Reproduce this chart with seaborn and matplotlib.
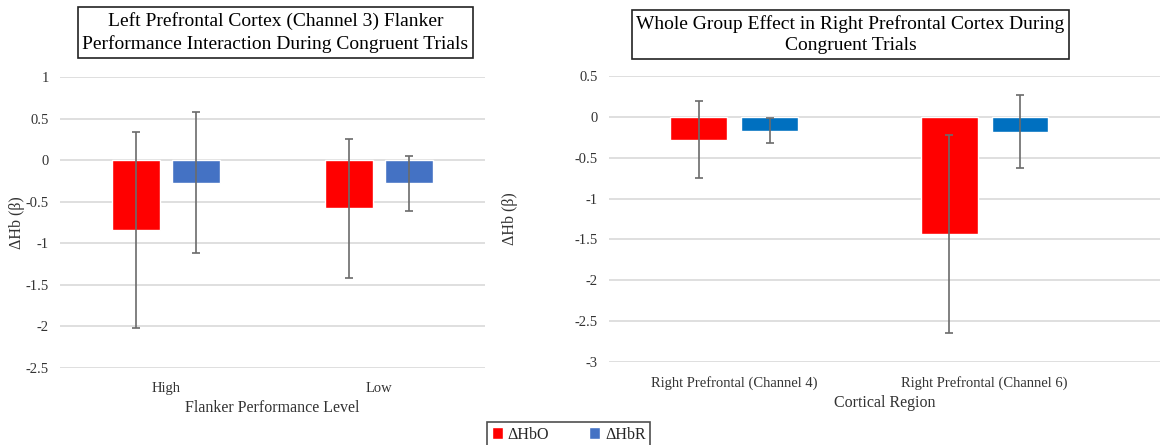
import numpy as np
import pandas as pd
import seaborn as sns
import matplotlib.pyplot as plt
from matplotlib.patches import Patch
from matplotlib.ticker import FuncFormatter

# left panel: Channel 3, by Flanker performance level
left_levels = ["High", "Low"]
left_hbo = [-0.84, -0.58]
left_hbo_err = [1.18, 0.84]
left_hbr = [-0.27, -0.28]
left_hbr_err = [0.85, 0.33]

# right panel: whole group, right prefrontal channels
right_regions = ["Right Prefrontal (Channel 4)", "Right Prefrontal (Channel 6)"]
right_hbo = [-0.28, -1.43]
right_hbo_err = [0.47, 1.21]
right_hbr = [-0.17, -0.18]
right_hbr_err = [0.15, 0.45]

signals = ["\u0394HbO", "\u0394HbR"]
left_yticks = [1, 0.5, 0, -0.5, -1, -1.5, -2, -2.5]
right_yticks = [0.5, 0, -0.5, -1, -1.5, -2, -2.5, -3]

RED = "#FF0000"
BLUE_L = "#4472C4"
BLUE_R = "#0070C0"
TXT = "#333333"

sns.set_style("white")
plt.rcParams["font.family"] = ["Liberation Serif", "DejaVu Serif"]
plt.rcParams["axes.unicode_minus"] = False


def make_df(cats, hbo, hbr):
    return pd.DataFrame({
        "cat": list(cats) * 2,
        "signal": [signals[0]] * len(cats) + [signals[1]] * len(cats),
        "value": list(hbo) + list(hbr),
    })


def draw_panel(ax, cats, hbo, hbo_err, hbr, hbr_err, blue, yticks, xlabel, ylab_x):
    df = make_df(cats, hbo, hbr)
    sns.barplot(data=df, x="cat", y="value", hue="signal", ax=ax,
                palette=[RED, blue], width=0.565, gap=0.2, errorbar=None,
                legend=False, saturation=1, zorder=2)
    for cont, vals, errs in zip(ax.containers, [hbo, hbr], [hbo_err, hbr_err]):
        xs = [b.get_x() + b.get_width() / 2 for b in cont]
        ax.errorbar(xs, vals, yerr=errs, fmt="none", ecolor="#6b6b6b",
                    elinewidth=1.2, capsize=3, capthick=1.2, zorder=3)
    ax.set_ylim(min(yticks), max(yticks))
    ax.set_yticks(yticks)
    ax.yaxis.set_major_formatter(FuncFormatter(lambda v, p: f"{v:g}"))
    ax.grid(axis="y", color="#D9D9D9", linewidth=1.2, zorder=0)
    ax.set_axisbelow(True)
    sns.despine(ax=ax, left=True, bottom=True)
    ax.tick_params(axis="both", length=0, labelsize=10.5, colors=TXT)
    ax.tick_params(axis="y", pad=8)
    ax.tick_params(axis="x", pad=10)
    ax.set_xlabel(xlabel, fontsize=11.5, color=TXT, labelpad=4)
    ax.set_ylabel("\u0394Hb (\u03b2)", fontsize=11.5, color=TXT)
    ax.yaxis.set_label_coords(ylab_x, 0.5)


fig = plt.figure(figsize=(11.63, 4.45), dpi=100)
ax1 = fig.add_axes([0.0516, 0.173, 0.3654, 0.654])
ax2 = fig.add_axes([0.5236, 0.1865, 0.4738, 0.6427])

draw_panel(ax1, left_levels, left_hbo, left_hbo_err, left_hbr, left_hbr_err,
           BLUE_L, left_yticks, "Flanker Performance Level", -0.082)
draw_panel(ax2, right_regions, right_hbo, right_hbo_err, right_hbr, right_hbr_err,
           BLUE_R, right_yticks, "Cortical Region", -0.165)
ax1.set_xlim(-0.5, 1.5)
ax2.set_xlim(-0.5, 1.7)

box = dict(boxstyle="square,pad=0.25", facecolor="white", edgecolor="#222222", linewidth=1.2)
fig.text(0.2369, 0.927,
         "Left Prefrontal Cortex (Channel 3) Flanker\nPerformance Interaction During Congruent Trials",
         ha="center", va="center", fontsize=14, color="black", bbox=box, linespacing=1.35)
fig.text(0.7313, 0.9225,
         "Whole Group Effect in Right Prefrontal Cortex During\nCongruent Trials",
         ha="center", va="center", fontsize=14, color="black", bbox=box, linespacing=1.35)

handles = [Patch(facecolor=RED, label=signals[0]), Patch(facecolor=BLUE_L, label=signals[1])]
fig.legend(handles=handles, loc="upper center", bbox_to_anchor=(0.489, 0.052), ncol=2,
           fontsize=11.5, frameon=True, fancybox=False, edgecolor="#222222",
           handlelength=0.7, handleheight=0.7, handletextpad=0.3, columnspacing=2.5,
           borderpad=0.3, borderaxespad=0)
fig.legends[0].get_frame().set_linewidth(1.2)

fig.savefig("out.png", dpi=100)
